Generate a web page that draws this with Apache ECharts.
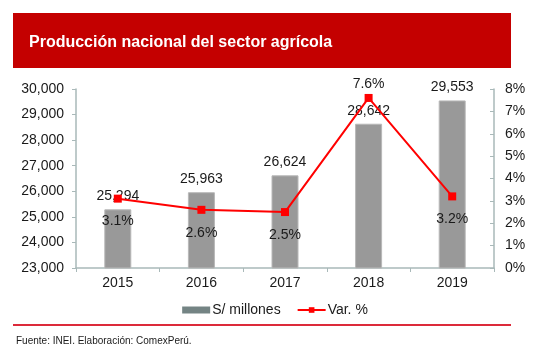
<!DOCTYPE html>
<html>
<head>
<meta charset="utf-8">
<script src="https://cdn.jsdelivr.net/npm/echarts@6/dist/echarts.min.js"></script>
<style>html,body{margin:0;padding:0;background:#fff}#c{width:550px;height:361px}</style>
</head>
<body>
<div id="c"></div>
<script>
const categories = ['2015', '2016', '2017', '2018', '2019'];
const produccion = [25294, 25963, 26624, 28642, 29553];
const variacion = [3.1, 2.6, 2.5, 7.6, 3.2];
const titleText = 'Producción nacional del sector agrícola';
const footerText = 'Fuente: INEI. Elaboración: ComexPerú.';

const FONT = '"Liberation Sans", Arial, sans-serif';
const axisColor = '#a9b9b9';
const maxVar = Math.max(...variacion);
const chart = echarts.init(document.getElementById('c'), null, {renderer: 'canvas'});
chart.setOption({
  animation: false,
  textStyle: {fontFamily: FONT},
  grid: {left: 76, right: 56, top: 89, bottom: 93},
  legend: {
    top: 298, left: 'center', itemWidth: 28, itemHeight: 7, itemGap: 16,
    textStyle: {fontFamily: FONT, fontSize: 14, color: '#1a1a1a', padding: [0, 0, 0, -3]},
    data: [
      {name: 'S/ millones', icon: 'rect', itemStyle: {color: '#748484', borderWidth: 0}},
      {name: 'Var. %'}
    ]
  },
  xAxis: {
    type: 'category', data: categories,
    axisLine: {lineStyle: {color: axisColor, width: 1.5}},
    axisTick: {show: true, length: 4, lineStyle: {color: axisColor}},
    axisLabel: {fontSize: 14, color: '#1a1a1a', margin: 8, fontFamily: FONT}
  },
  yAxis: [
    {
      type: 'value', min: 23000, max: 30000, interval: 1000,
      axisLine: {show: true, lineStyle: {color: axisColor, width: 1.5}},
      axisTick: {show: true, length: 4, lineStyle: {color: axisColor}},
      splitLine: {show: false},
      axisLabel: {fontSize: 14, color: '#1a1a1a', margin: 12, fontFamily: FONT,
        formatter: v => v.toLocaleString('en-US')}
    },
    {
      type: 'value', min: 0, max: 8, interval: 1, position: 'right',
      axisLine: {show: true, lineStyle: {color: axisColor, width: 1.5}},
      axisTick: {show: true, inside: true, length: 4, lineStyle: {color: axisColor}},
      splitLine: {show: false},
      axisLabel: {fontSize: 14, color: '#1a1a1a', margin: 11, fontFamily: FONT,
        formatter: v => v + '%'}
    }
  ],
  series: [
    {
      name: 'S/ millones', type: 'bar', data: produccion, barWidth: 27,
      itemStyle: {color: '#999999', borderColor: '#b8b8b8', borderWidth: 1},
      label: {show: true, position: 'top', distance: 6, fontSize: 14, color: '#1a1a1a',
        fontFamily: FONT, formatter: p => p.value.toLocaleString('en-US')}
    },
    {
      name: 'Var. %', type: 'line', yAxisIndex: 1,
      data: variacion.map(v => v === maxVar
        ? {value: v, label: {position: 'top', distance: 3}}
        : {value: v, label: {position: 'bottom', distance: 12}}),
      symbol: 'rect', symbolSize: 8,
      lineStyle: {color: '#ff0000', width: 2},
      itemStyle: {color: '#ff0000'},
      label: {show: true, fontSize: 14, color: '#1a1a1a', fontFamily: FONT,
        formatter: p => p.value.toFixed(1) + '%'}
    }
  ],
  graphic: [
    {type: 'rect', shape: {x: 13, y: 13, width: 498, height: 55}, style: {fill: '#c40000'}, z: 0},
    {type: 'text', x: 29, y: 43, style: {text: titleText, fill: '#fff', font: 'bold 16px ' + FONT, textVerticalAlign: 'middle'}},
    {type: 'rect', shape: {x: 13, y: 324, width: 498, height: 2}, style: {fill: '#dc2a3a'}},
    {type: 'text', x: 16, y: 341, style: {text: footerText, fill: '#1a1a1a', font: '10px ' + FONT, textVerticalAlign: 'middle'}}
  ]
});
</script>
</body>
</html>
